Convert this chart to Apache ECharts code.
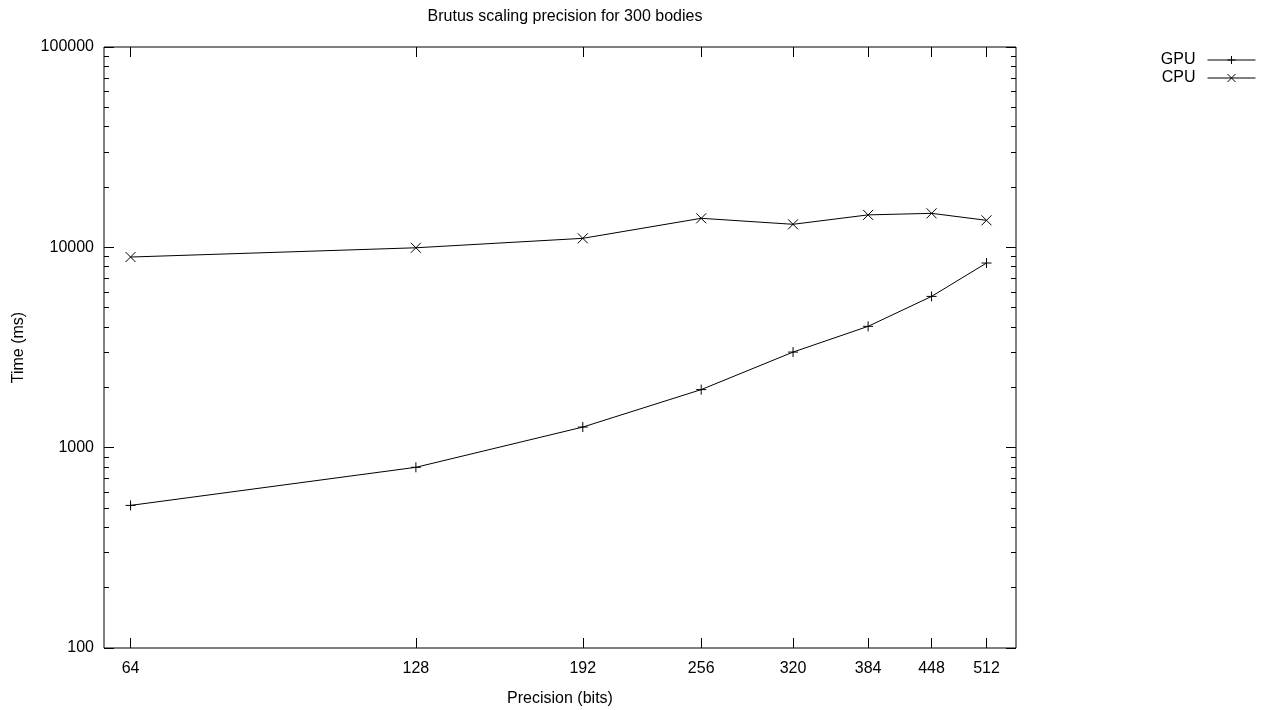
<!DOCTYPE html>
<html><head><meta charset="utf-8">
<script src="https://cdn.jsdelivr.net/npm/echarts@6/dist/echarts.min.js"></script>
<style>html,body{margin:0;padding:0;background:#fff}#c{width:1266px;height:710px}</style>
</head><body><div id="c"></div>
<script>
const precisionBits = [64, 128, 192, 256, 320, 384, 448, 512];
const gpuTimes = [515, 798, 1267, 1949, 3000, 4033, 5690, 8350];
const cpuTimes = [8944, 9950, 11090, 13960, 13030, 14520, 14780, 13640];
const xTickValues = [64, 128, 192, 256, 320, 384, 448, 512];
const yMajorTicks = [100, 1000, 10000, 100000];
const yMinorTicks = [200,300,400,500,600,700,800,900,2000,3000,4000,5000,6000,7000,8000,9000,20000,30000,40000,50000,60000,70000,80000,90000];

const FONT = 'Liberation Sans, Arial, sans-serif';
const INK = '#000';
const chart = echarts.init(document.getElementById('c'), null, {renderer: 'canvas'});

function xAx(pos, main) {
  return {
    type: 'log', logBase: 2, min: 60, max: 550, position: pos, gridIndex: 0,
    axisLine: {show: false}, splitLine: {show: false}, minorTick: {show: false},
    axisTick: {show: true, inside: true, length: 10, customValues: xTickValues, lineStyle: {color: INK, width: 1}},
    axisLabel: {show: main, customValues: xTickValues, fontSize: 16, fontFamily: FONT, color: INK, margin: 13,
      formatter: v => String(Math.round(v))},
    name: main ? 'Precision (bits)' : '', nameLocation: 'middle', nameGap: 43,
    nameTextStyle: {fontSize: 16, fontFamily: FONT, color: INK}
  };
}
function yAx(pos, main, ticks, len) {
  return {
    type: 'log', logBase: 10, min: 100, max: 100000, position: pos, gridIndex: 0,
    axisLine: {show: false}, splitLine: {show: false}, minorTick: {show: false},
    axisTick: {show: true, inside: true, length: len, customValues: ticks, lineStyle: {color: INK, width: 1}},
    axisLabel: {show: main, customValues: ticks, fontSize: 16, fontFamily: FONT, color: INK, margin: 10,
      formatter: v => String(Math.round(v))},
    name: main ? 'Time (ms)' : '', nameLocation: 'middle', nameGap: 77, nameRotate: 90,
    nameTextStyle: {fontSize: 16, fontFamily: FONT, color: INK}
  };
}

const option = {
  backgroundColor: '#fff',
  animation: false,
  title: {text: 'Brutus scaling precision for 300 bodies', left: 560, top: 4, textAlign: 'center',
    textStyle: {fontSize: 16, fontWeight: 'normal', fontFamily: FONT, color: INK}},
  legend: {
    orient: 'vertical', right: 5, top: 47, align: 'right', itemWidth: 48, itemHeight: 10, itemGap: 2,
    textStyle: {fontSize: 16, fontFamily: FONT, color: INK, padding: [0, 7, 0, 0]},
    lineStyle: {width: 1, color: INK},
    itemStyle: {color: 'transparent', borderColor: INK, borderWidth: 1},
    data: ['GPU', 'CPU']
  },
  grid: {left: 104, right: 250, top: 47, bottom: 62, containLabel: false, outerBoundsMode: 'none',
    show: true, borderColor: INK, borderWidth: 1, backgroundColor: 'transparent'},
  xAxis: [xAx('bottom', true), xAx('top', false)],
  yAxis: [yAx('left', true, yMajorTicks, 10), yAx('left', false, yMinorTicks, 5), yAx('right', false, yMajorTicks, 10), yAx('right', false, yMinorTicks, 5)],
  series: [
    {name: 'GPU', type: 'line', xAxisIndex: 0, yAxisIndex: 0,
     data: precisionBits.map((b, i) => [b, gpuTimes[i]]),
     symbol: 'path://M5,0L5,10M0,5L10,5', symbolSize: 10,
     lineStyle: {color: INK, width: 1},
     itemStyle: {color: 'transparent', borderColor: INK, borderWidth: 1}},
    {name: 'CPU', type: 'line', xAxisIndex: 0, yAxisIndex: 0,
     data: precisionBits.map((b, i) => [b, cpuTimes[i]]),
     symbol: 'path://M0,0L10,10M10,0L0,10', symbolSize: 10,
     lineStyle: {color: INK, width: 1},
     itemStyle: {color: 'transparent', borderColor: INK, borderWidth: 1}}
  ]
};
chart.setOption(option);
</script></body></html>
